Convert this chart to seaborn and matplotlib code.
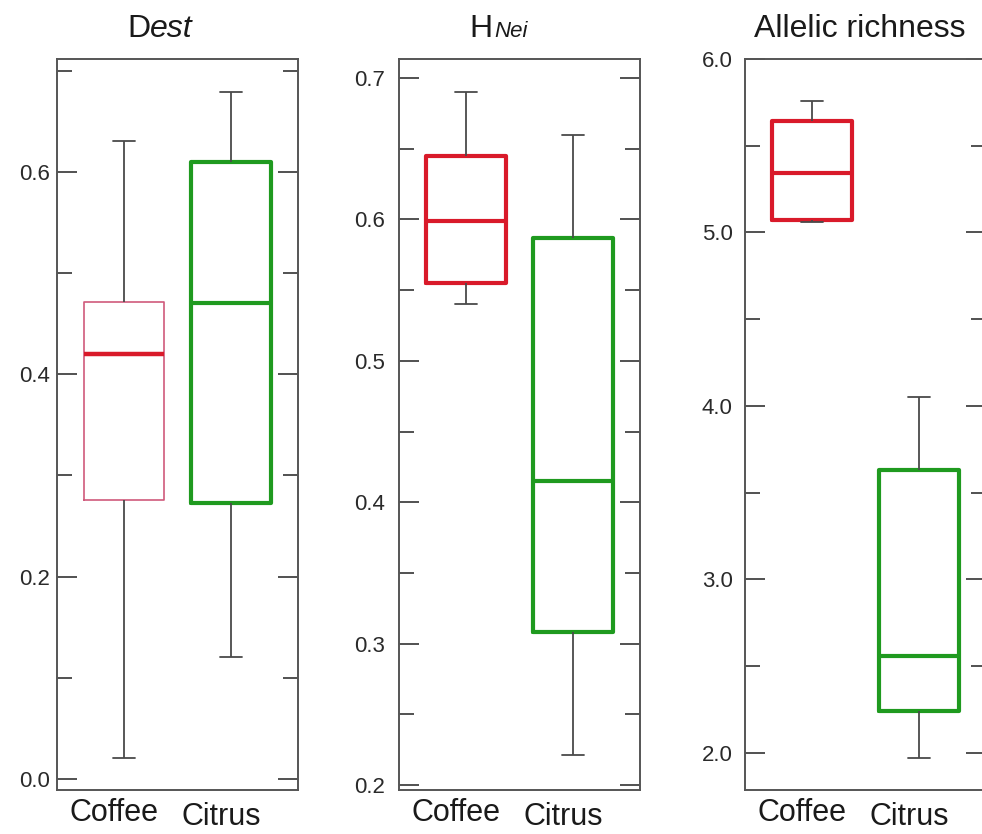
import numpy as np
import pandas as pd
import matplotlib
matplotlib.use("Agg")
import matplotlib.pyplot as plt
from matplotlib.ticker import MultipleLocator, FormatStrFormatter
from matplotlib.transforms import ScaledTranslation
import seaborn as sns

# ---------------- data (five-number summaries) ----------------
sites = ["Coffee", "Citrus"]
panel_titles = ["Dest", "HNei", "Allelic richness"]

# [min, Q1, median, Q3, max]
dest_coffee = [0.021, 0.276, 0.420, 0.471, 0.630]
dest_citrus = [0.120, 0.273, 0.470, 0.610, 0.679]
hnei_coffee = [0.540, 0.555, 0.599, 0.645, 0.690]
hnei_citrus = [0.221, 0.308, 0.415, 0.587, 0.660]
ar_coffee = [5.06, 5.07, 5.34, 5.64, 5.76]
ar_citrus = [1.97, 2.24, 2.56, 3.63, 4.05]

ylims = [(-0.011, 0.7115), (0.1965, 0.7135), (1.785, 6.0)]
major_steps = [0.2, 0.1, 1.0]
minor_steps = [0.1, 0.05, 0.5]

RED = "#d91a2a"
PINK = "#cf5a7c"
GREEN = "#1f9a1f"
GRAY = "#4a4a4a"

sns.set_theme(style="white")
plt.rcParams["font.family"] = ["Liberation Sans", "DejaVu Sans"]

fig = plt.figure(figsize=(9.82, 8.34), dpi=100)
W, H = 982.0, 834.0
lefts = [57, 399, 745]
top_px, bot_px, width_px = 59, 790, 241
axes = [fig.add_axes([l / W, 1 - bot_px / H, width_px / W, (bot_px - top_px) / H]) for l in lefts]

panel_data = [(dest_coffee, dest_citrus), (hnei_coffee, hnei_citrus), (ar_coffee, ar_citrus)]
ypads = [5, 10, 9]

for i, (ax, (cof, cit)) in enumerate(zip(axes, panel_data)):
    df = pd.DataFrame({
        "site": ["Coffee"] * len(cof) + ["Citrus"] * len(cit),
        "value": cof + cit,
    })
    common = dict(x="site", y="value", order=sites, width=0.75, whis=(0, 100),
                  fill=False, ax=ax, showfliers=False, capwidths=0.2,
                  whiskerprops=dict(color=GRAY, linewidth=1.3),
                  capprops=dict(color=GRAY, linewidth=1.3))
    # Coffee
    if i == 0:
        sns.boxplot(data=df[df.site == "Coffee"], color=RED,
                    boxprops=dict(color=PINK, linewidth=1.2),
                    medianprops=dict(color=RED, linewidth=3.2), **common)
    else:
        sns.boxplot(data=df[df.site == "Coffee"], color=RED,
                    boxprops=dict(color=RED, linewidth=3.0),
                    medianprops=dict(color=RED, linewidth=3.0), **common)
    # Citrus
    sns.boxplot(data=df[df.site == "Citrus"], color=GREEN,
                boxprops=dict(color=GREEN, linewidth=3.0),
                medianprops=dict(color=GREEN, linewidth=3.0), **common)

    ax.set_xlim(-0.625, 1.625)
    ax.set_ylim(*ylims[i])
    ax.set_xlabel("")
    ax.set_ylabel("")
    ax.yaxis.set_major_locator(MultipleLocator(major_steps[i]))
    ax.yaxis.set_minor_locator(MultipleLocator(minor_steps[i]))
    ax.yaxis.set_major_formatter(FormatStrFormatter("%.1f"))
    ax.tick_params(axis="y", which="both", direction="in", left=True, right=True,
                   color="#333333", width=1.2)
    ax.tick_params(axis="y", which="major", length=14.5, labelsize=16,
                   labelcolor="#2a2a2a", pad=ypads[i])
    ax.tick_params(axis="y", which="minor", length=10.5)
    ax.tick_params(axis="x", length=0, labelsize=22, labelcolor="#1a1a1a", pad=6)
    for sp in ax.spines.values():
        sp.set_visible(True)
        sp.set_color("#555555")
        sp.set_linewidth(1.4)
    for k, lab in enumerate(ax.get_xticklabels()):
        dy = -0.04 if k == 1 else 0.0
        lab.set_transform(lab.get_transform() + ScaledTranslation(-0.10, dy, fig.dpi_scale_trans))

# titles
ybase = 1 + (top_px - 37) / (bot_px - top_px)
axes[0].text(0.386, ybase, "D", transform=axes[0].transAxes, ha="right", va="baseline",
             fontsize=23, color="#1a1a1a")
axes[0].text(0.386, ybase, "est", transform=axes[0].transAxes, ha="left", va="baseline",
             fontsize=23, style="italic", color="#1a1a1a")
axes[1].text(0.39, ybase, "H", transform=axes[1].transAxes, ha="right", va="baseline",
             fontsize=23, color="#1a1a1a")
axes[1].text(0.395, ybase, "Nei", transform=axes[1].transAxes, ha="left", va="baseline",
             fontsize=16, style="italic", color="#1a1a1a")
axes[2].text(0.477, ybase, "Allelic richness", transform=axes[2].transAxes, ha="center",
             va="baseline", fontsize=23, color="#1a1a1a")

fig.savefig("out.png", dpi=100)
